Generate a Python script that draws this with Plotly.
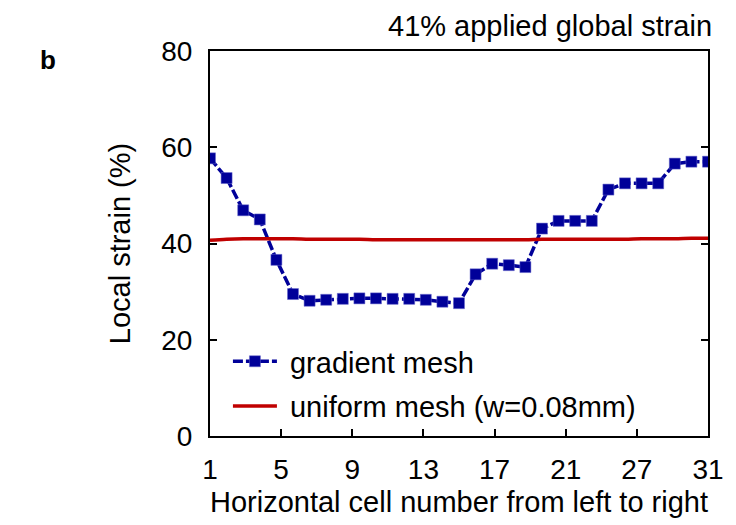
import numpy as np
import plotly.graph_objects as go

# Cell numbers along the horizontal direction
cells = list(range(1, 32))

# Local strain per cell (%)
gradient_mesh = [57.7, 53.6, 46.9, 45.0, 36.6, 29.5, 28.1, 28.3, 28.5, 28.6,
                 28.6, 28.5, 28.5, 28.3, 27.9, 27.6, 33.6, 35.8, 35.5, 35.1,
                 43.1, 44.7, 44.7, 44.7, 51.2, 52.5, 52.5, 52.5, 56.6, 57.0, 57.0]
uniform_mesh = [40.7, 40.9, 41.0, 41.0, 41.0, 41.0, 40.9, 40.9, 40.9, 40.9,
                40.8, 40.8, 40.8, 40.8, 40.8, 40.8, 40.8, 40.8, 40.8, 40.8,
                40.9, 40.9, 40.9, 40.9, 40.9, 40.9, 41.0, 41.0, 41.0, 41.1, 41.1]

x_tick_labels = ["1", "5", "9", "13", "17", "21", "27", "31"]
y_ticks = [0, 20, 40, 60, 80]

FONT = "Liberation Sans, Arial, sans-serif"
FS = 29
TICK_FS = 28
GAP = "\u00a0"  # spacing between legend symbol and label

fig = go.Figure()
fig.add_trace(go.Scatter(
    x=cells, y=gradient_mesh, mode="lines+markers", name=GAP + "gradient mesh",
    legendgroup="g",
    line=dict(color="#000099", width=3.5, dash="10px,3px"),
    marker=dict(symbol="square", size=11, color="#000099",
                line=dict(color="#6666cc", width=0.5)),
))
fig.add_trace(go.Scatter(
    x=cells, y=uniform_mesh, mode="lines",
    name=GAP + "uniform mesh (w=0.08mm)", legendgroup="u",
    line=dict(color="#C00000", width=3.5, shape="spline"),
))

x_lo, x_hi = cells[0], cells[-1]
tickvals = list(np.linspace(x_lo, x_hi, len(x_tick_labels)))

fig.update_layout(
    width=736, height=525,
    margin=dict(l=210, r=19, t=51, b=88),
    paper_bgcolor="white", plot_bgcolor="white",
    font=dict(family=FONT, size=FS, color="black"),
    showlegend=True,
    legend=dict(x=0.036, y=0.26, xanchor="left", yanchor="top",
                bgcolor="rgba(0,0,0,0)", font=dict(size=FS),
                traceorder="grouped", tracegroupgap=4, itemwidth=44),
    xaxis=dict(range=[x_lo, x_hi], tickmode="array", tickvals=tickvals,
               ticktext=x_tick_labels, ticks="inside", ticklen=7, tickwidth=2,
               tickcolor="black", showline=True, linecolor="black", linewidth=2,
               mirror=True, showgrid=False, zeroline=False,
               tickfont=dict(size=TICK_FS), ticklabelstandoff=7,
               title=dict(text="Horizontal cell number from left to right",
                          font=dict(size=FS), standoff=8)),
    yaxis=dict(range=[0, 80], tickmode="array", tickvals=y_ticks,
               ticks="inside", ticklen=7, tickwidth=2, tickcolor="black",
               showline=True, linecolor="black", linewidth=2, mirror="ticks",
               showgrid=False, zeroline=False,
               tickfont=dict(size=TICK_FS), ticklabelstandoff=10,
               title=dict(text="Local strain (%)", font=dict(size=FS),
                          standoff=22)),
    annotations=[
        dict(text="41% applied global strain", xref="paper", yref="paper",
             x=1, y=1, xanchor="right", yanchor="bottom", yshift=7, xshift=6,
             showarrow=False, font=dict(size=FS)),
        dict(text="<b>b</b>", xref="paper", yref="paper", x=-0.345, y=1,
             xanchor="left", yanchor="top", yshift=8, showarrow=False,
             font=dict(size=26)),
    ],
)

fig.write_html("out.html")
